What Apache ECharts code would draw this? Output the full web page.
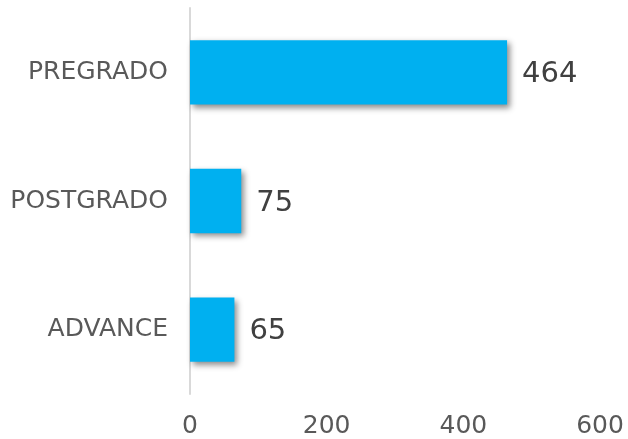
<!DOCTYPE html>
<html><head><meta charset="utf-8">
<script src="https://cdn.jsdelivr.net/npm/echarts@6/dist/echarts.min.js"></script>
<style>html,body{margin:0;padding:0;background:#fff}#c{width:628px;height:439px}</style>
</head><body><div id="c"></div>
<script>
const categories = ['PREGRADO', 'POSTGRADO', 'ADVANCE'];
const values = [464, 75, 65];
const xTicks = [0, 200, 400, 600];

const chart = echarts.init(document.getElementById('c'));
chart.setOption({
  animation: false,
  grid: { left: 190, right: 28, top: 8, bottom: 43, containLabel: false },
  xAxis: {
    type: 'value', min: xTicks[0], max: xTicks[xTicks.length - 1], interval: xTicks[1] - xTicks[0],
    axisLine: { show: false }, axisTick: { show: false }, splitLine: { show: false },
    axisLabel: { color: '#595959', fontSize: 25, fontFamily: 'DejaVu Sans', margin: 20 }
  },
  yAxis: {
    type: 'category', data: categories, inverse: true,
    axisLine: { show: true, lineStyle: { color: '#d9d9d9', width: 2 } },
    axisTick: { show: false },
    axisLabel: { color: '#595959', fontSize: 25, fontFamily: 'DejaVu Sans', margin: 22 }
  },
  series: [{
    type: 'bar', data: values, barWidth: '50%',
    itemStyle: { color: '#00B0F0', shadowColor: 'rgba(0,0,0,0.45)', shadowBlur: 6, shadowOffsetX: 3, shadowOffsetY: 3 },
    label: { show: true, position: 'right', distance: 15, color: '#404040', fontSize: 29, fontFamily: 'DejaVu Sans', offset: [0, 2] }
  }]
});
</script></body></html>
